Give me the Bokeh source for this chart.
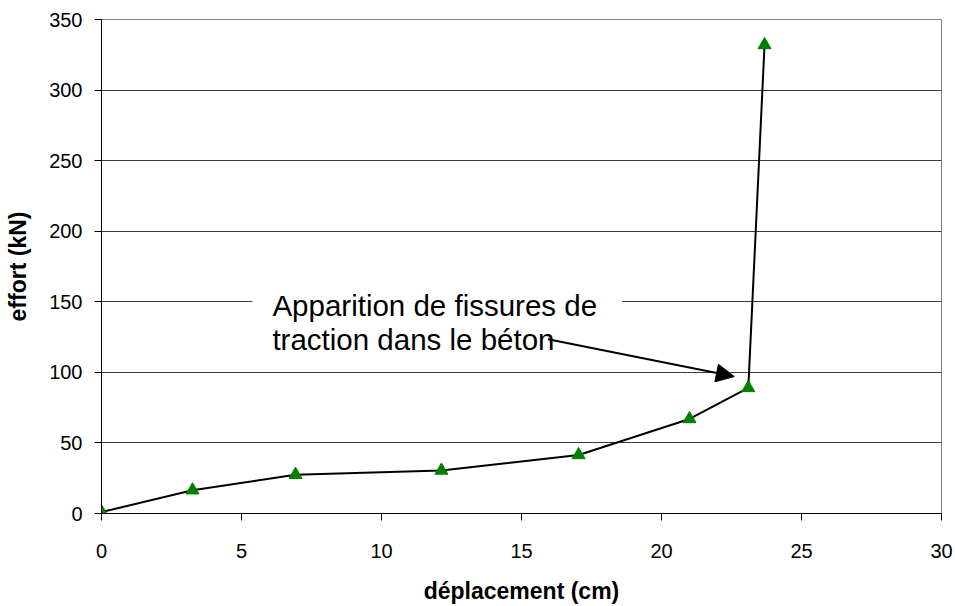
from bokeh.plotting import figure
from bokeh.models import (Range1d, FixedTicker, Label, Arrow, NormalHead, ColumnDataSource)
from bokeh.embed import file_html
from bokeh.resources import INLINE

# data
deplacement = [0.0, 3.25, 6.93, 12.14, 17.04, 21.0, 23.1, 23.68]
effort = [1.0, 16.5, 27.5, 30.5, 41.5, 67.0, 89.0, 332.0]
x_ticks = [0, 5, 10, 15, 20, 25, 30]
y_ticks = [0, 50, 100, 150, 200, 250, 300, 350]
annotation_text = "Apparition de fissures de\ntraction dans le béton"
annotation_pos = (5.39, 161.7)
arrow_start = (15.95, 123.5)
arrow_end = (22.6, 97.0)

FONT = "Liberation Sans"

p = figure(width=955, height=606, output_backend="svg", toolbar_location=None,
           x_range=Range1d(0, 30), y_range=Range1d(0, 350),
           min_border_left=101, min_border_right=14, min_border_top=19, min_border_bottom=92)
p.outline_line_color = "#808080"
p.outline_line_width = 1
p.background_fill_color = "white"
p.border_fill_color = "white"

p.xgrid.visible = False
p.ygrid.grid_line_color = "#3a3a3a"
p.ygrid.grid_line_width = 1
p.ygrid.ticker = FixedTicker(ticks=y_ticks)

for ax, ticks in ((p.xaxis[0], x_ticks), (p.yaxis[0], y_ticks)):
    ax.ticker = FixedTicker(ticks=ticks)
    ax.minor_tick_line_color = None
    ax.major_tick_in = 0
    ax.major_tick_out = 7
    ax.axis_line_color = "black"
    ax.major_tick_line_color = "black"
    ax.major_label_text_font = FONT
    ax.major_label_text_font_size = "20px"
    ax.major_label_text_color = "black"
    ax.axis_label_text_font = FONT
    ax.axis_label_text_font_size = "23px"
    ax.axis_label_text_font_style = "bold"
    ax.axis_label_text_color = "black"

p.xaxis.axis_label = "déplacement (cm)"
p.yaxis.axis_label = "effort (kN)"
p.xaxis.major_label_standoff = 23
p.yaxis.major_label_standoff = 12
p.xaxis.axis_label_standoff = 17
p.yaxis.axis_label_standoff = 15

src = ColumnDataSource(dict(x=deplacement, y=effort))
p.line("x", "y", source=src, line_color="black", line_width=2)
p.scatter("x", "y", source=src, marker="triangle", size=13,
          fill_color="#008000", line_color="#008000")

lab = Label(x=annotation_pos[0], y=annotation_pos[1], text=annotation_text,
            text_font=FONT, text_font_size="29.5px", text_color="black",
            text_align="left", text_baseline="top", text_line_height=1.03,
            background_fill_color="white", padding=(20, 25, 4, 4))
p.add_layout(lab)

arr = Arrow(x_start=arrow_start[0], y_start=arrow_start[1], x_end=arrow_end[0], y_end=arrow_end[1],
            line_color="black", line_width=2,
            end=NormalHead(size=18, fill_color="black", line_color="black"))
p.add_layout(arr)

open("out.html", "w").write(file_html(p, INLINE))
